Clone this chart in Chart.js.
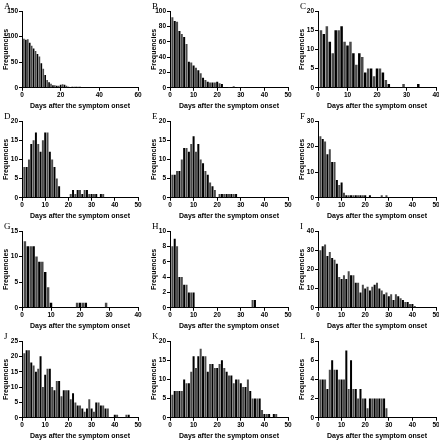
<!DOCTYPE html>
<html>
<head>
<meta charset="utf-8">
<script src="https://cdn.jsdelivr.net/npm/chart.js@4.4.0/dist/chart.umd.min.js"></script>
<style>
    body { margin: 0; background: #fff; overflow: hidden; }
    #grid { position: relative; width: 439px; height: 440px; }
    .panel { position: absolute; }
    .letter {
        position: absolute;
        font-family: 'Liberation Serif', serif;
        font-size: 9px;
        color: #000;
    }
</style>
</head>
<body>
<div id="grid"></div>
<script>
// 패널별 일자 빈도 (1일째부터)
const countsA = [96, 94, 95, 88, 82, 77, 72, 66, 61, 48, 37, 25, 15, 11, 8, 5, 5, 4, 4, 6, 7, 6, 4, 2, 1, 2, 2, 2, 2, 2, 1];
const countsB = [92, 87, 86, 74, 70, 66, 57, 34, 33, 29, 26, 23, 19, 13, 10, 8, 7, 7, 7, 8, 6, 5, 0, 1, 1, 1, 2, 1, 1, 1, 1];
const countsC = [15, 14, 16, 12, 9, 15, 15, 16, 12, 11, 12, 9, 6, 9, 8, 4, 5, 5, 3, 5, 5, 4, 2, 1, 0, 0, 0, 0, 1, 0, 0, 0, 0, 1];
const countsD = [8, 8, 10, 14, 15, 17, 14, 12, 15, 17, 17, 12, 10, 8, 5, 3, 0, 0, 0, 0, 1, 2, 1, 2, 2, 1, 2, 2, 1, 1, 1, 1, 0, 1, 1];
const countsE = [6, 6, 7, 7, 10, 13, 13, 12, 14, 16, 12, 14, 10, 9, 7, 6, 4, 3, 2, 0, 1, 1, 1, 1, 1, 1, 1, 1];
const countsF = [24, 23, 22, 17, 19, 14, 14, 7, 5, 6, 2, 1, 1, 1, 1, 1, 1, 1, 1, 1, 0, 1, 0, 0, 0, 0, 1, 0, 1];
const countsG = [13, 12, 12, 12, 10, 9, 9, 7, 4, 1, 0, 0, 0, 0, 0, 0, 0, 0, 1, 1, 1, 1, 0, 0, 0, 0, 0, 0, 1];
const countsH = [8, 9, 8, 4, 4, 3, 3, 2, 2, 2, 0, 0, 0, 0, 0, 0, 0, 0, 0, 0, 0, 0, 0, 0, 0, 0, 0, 0, 0, 0, 0, 0, 0, 0, 1, 1];
const countsI = [30, 32, 33, 27, 29, 26, 25, 23, 16, 15, 17, 15, 19, 17, 17, 13, 13, 8, 12, 10, 11, 9, 11, 12, 13, 10, 9, 7, 8, 6, 7, 4, 7, 6, 5, 4, 3, 3, 2, 2, 1];
const countsJ = [21, 22, 22, 18, 17, 15, 16, 20, 10, 14, 16, 16, 10, 9, 12, 12, 7, 9, 9, 9, 6, 8, 5, 4, 4, 3, 2, 3, 6, 3, 2, 5, 5, 4, 4, 3, 3, 0, 0, 1, 1, 0, 0, 0, 1, 1];
const countsK = [6, 7, 7, 7, 7, 10, 9, 9, 12, 16, 13, 16, 18, 16, 16, 12, 14, 14, 13, 13, 14, 15, 13, 12, 11, 11, 9, 10, 10, 9, 8, 8, 10, 7, 5, 5, 5, 5, 2, 1, 1, 1, 0, 1, 1];
const countsL = [4, 4, 4, 3, 5, 6, 5, 5, 4, 4, 4, 7, 3, 6, 3, 3, 2, 3, 2, 2, 1, 2, 2, 2, 2, 2, 2, 2, 1];

const panelLetters = ['A', 'B', 'C', 'D', 'E', 'F', 'G', 'H', 'I', 'J', 'K', 'L'];
const panelCounts = [countsA, countsB, countsC, countsD, countsE, countsF, countsG, countsH, countsI, countsJ, countsK, countsL];
const xMaxes = [60, 50, 40, 50, 50, 50, 40, 50, 50, 50, 50, 50];
const xSteps = [20, 10, 10, 10, 10, 10, 10, 10, 10, 10, 10, 10];
const yMaxes = [150, 100, 20, 20, 20, 30, 15, 10, 40, 25, 20, 8];
const ySteps = [50, 20, 5, 5, 5, 10, 5, 2, 10, 5, 5, 2];

const xTitle = 'Days after the symptom onset';
const yTitle = 'Frequencies';

document.addEventListener('DOMContentLoaded', function() {
    panelLetters.forEach((letter, i) => drawPanel(i));
});

// 패널 하나 그리기
function drawPanel(i) {
    const grid = document.getElementById('grid');
    const col = i % 3;
    const row = Math.floor(i / 3);
    const lefts = [0, 148, 296];
    const rightPads = [8, 6, 6];

    const wrap = document.createElement('div');
    wrap.className = 'panel';
    wrap.style.left = lefts[col] + 'px';
    wrap.style.top = (row * 110) + 'px';
    const canvas = document.createElement('canvas');
    canvas.width = 146;
    canvas.height = 110;
    wrap.appendChild(canvas);
    grid.appendChild(wrap);

    const label = document.createElement('div');
    label.className = 'letter';
    label.textContent = panelLetters[i];
    label.style.left = (lefts[col] + 4) + 'px';
    label.style.top = (row * 110 + 1) + 'px';
    grid.appendChild(label);

    const counts = panelCounts[i];
    const points = counts.map((c, d) => ({ x: d + 1, y: c }));
    const tickFont = { family: "'Liberation Sans', Arial, sans-serif", size: 6.5, weight: 'bold' };
    const titleFont = { family: "'Liberation Sans', Arial, sans-serif", size: 7, weight: 'bold' };

    new Chart(canvas, {
        type: 'bar',
        data: {
            datasets: [{
                data: points,
                backgroundColor: counts.map((c, d) => d % 2 ? '#000000' : '#4a4a4a'),
                borderWidth: 0,
                barPercentage: 1,
                categoryPercentage: 0.85
            }]
        },
        options: {
            responsive: false,
            animation: false,
            devicePixelRatio: 1,
            layout: { padding: { top: 11, right: rightPads[col], bottom: 0, left: 0 } },
            plugins: {
                legend: { display: false },
                tooltip: { enabled: false }
            },
            scales: {
                x: {
                    type: 'linear',
                    min: 0,
                    max: xMaxes[i],
                    offset: false,
                    grid: { offset: false, drawOnChartArea: false, drawTicks: true, tickLength: 3, color: '#000' },
                    border: { display: true, color: '#000', width: 1 },
                    ticks: { stepSize: xSteps[i], color: '#000', font: tickFont, padding: 1, maxRotation: 0 },
                    title: { display: true, text: xTitle, color: '#000', font: titleFont, padding: { top: 1, bottom: 0 } }
                },
                y: {
                    min: 0,
                    max: yMaxes[i],
                    grid: { drawOnChartArea: false, drawTicks: true, tickLength: 3, color: '#000' },
                    border: { display: true, color: '#000', width: 1 },
                    ticks: { stepSize: ySteps[i], color: '#000', font: tickFont, padding: 1 },
                    title: { display: true, text: yTitle, color: '#000', font: titleFont, padding: { top: 2, bottom: 0 } },
                    afterFit: function(scale) {
                        scale.width = 22;
                    }
                }
            }
        }
    });
}
</script>
</body>
</html>
